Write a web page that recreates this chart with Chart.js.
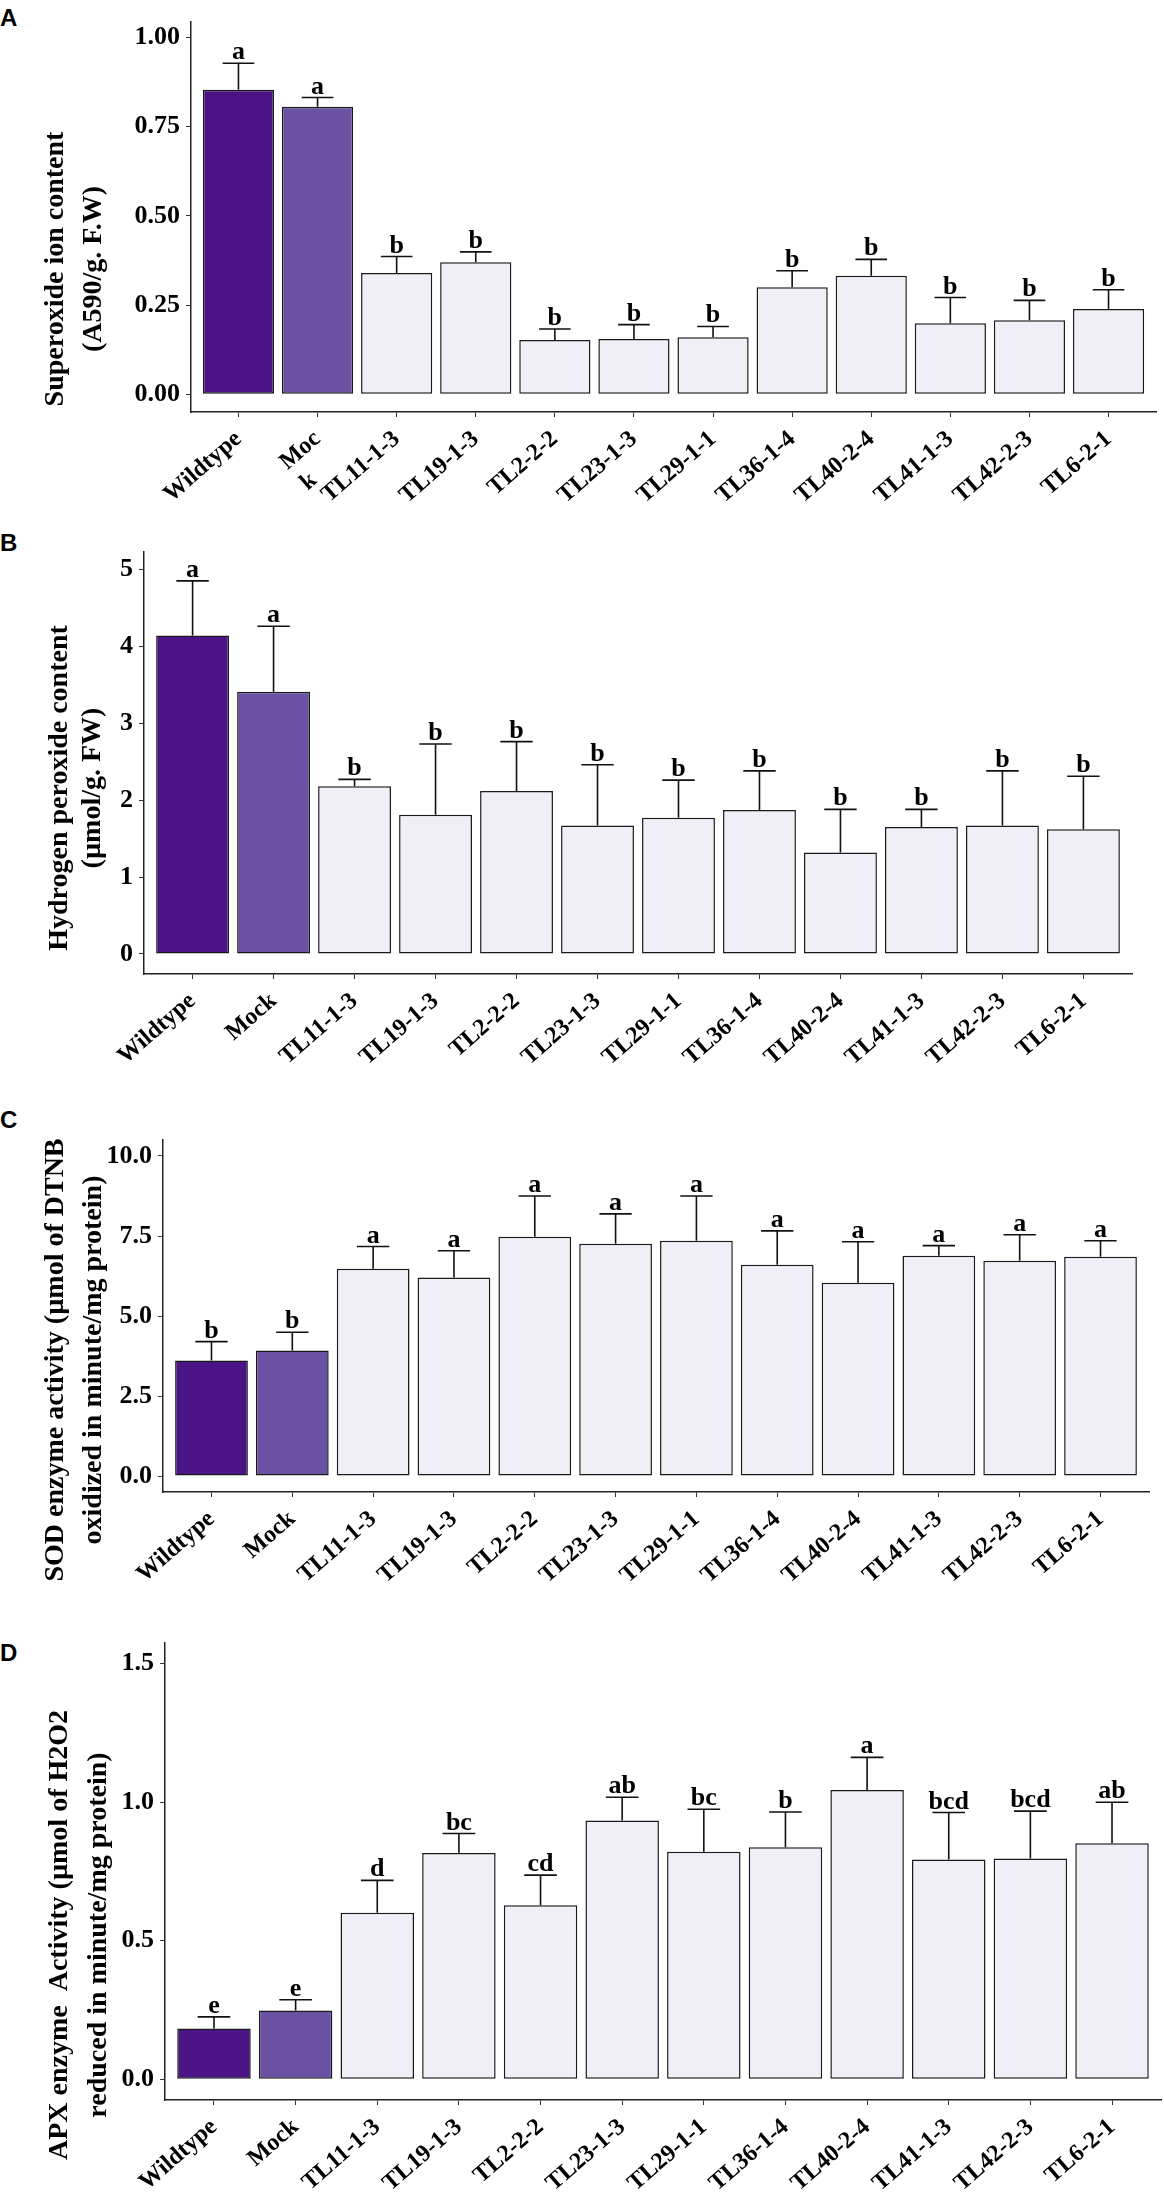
<!DOCTYPE html>
<html>
<head>
<meta charset="utf-8">
<script src="https://cdn.jsdelivr.net/npm/chart.js@4.4.1/dist/chart.umd.min.js"></script>
<style>
  html, body { margin: 0; padding: 0; background: #fff; }
  body { width: 1164px; height: 2195px; position: relative; overflow: hidden; }
  .panel { position: absolute; left: 0; }
  .tag { position: absolute; left: 0; font: bold 24px "Liberation Sans", Arial, sans-serif; line-height: 24px; }
</style>
</head>
<body>
<div class="tag" style="top:6px">A</div>
<div class="tag" style="top:531px">B</div>
<div class="tag" style="top:1108px">C</div>
<div class="tag" style="top:1641px">D</div>

<canvas class="panel" id="chartA" width="1164" height="530" style="top:0px"></canvas>
<canvas class="panel" id="chartB" width="1164" height="550" style="top:530px"></canvas>
<canvas class="panel" id="chartC" width="1164" height="520" style="top:1080px"></canvas>
<canvas class="panel" id="chartD" width="1164" height="595" style="top:1600px"></canvas>

<script>
// genotypes on the x axis
const genotypes = ['Wildtype', 'Mock', 'TL11-1-3', 'TL19-1-3', 'TL2-2-2', 'TL23-1-3',
  'TL29-1-1', 'TL36-1-4', 'TL40-2-4', 'TL41-1-3', 'TL42-2-3', 'TL6-2-1'];
// panel A breaks "Mock" over two lines
const genotypesA = ['Wildtype', ['Moc', 'k\u00a0\u00a0\u00a0\u00a0\u00a0'], 'TL11-1-3', 'TL19-1-3', 'TL2-2-2', 'TL23-1-3',
  'TL29-1-1', 'TL36-1-4', 'TL40-2-4', 'TL41-1-3', 'TL42-2-3', 'TL6-2-1'];

// A - superoxide
const superoxideMean = [0.854, 0.806, 0.340, 0.370, 0.152, 0.155, 0.160, 0.300, 0.332, 0.199, 0.207, 0.239];
const superoxideErr  = [0.074, 0.026, 0.046, 0.029, 0.031, 0.040, 0.030, 0.046, 0.046, 0.072, 0.056, 0.054];
const superoxideSig  = ['a', 'a', 'b', 'b', 'b', 'b', 'b', 'b', 'b', 'b', 'b', 'b'];
const superoxideTicks = [0, 0.25, 0.5, 0.75, 1.0];

// B - hydrogen peroxide
const peroxideMean = [4.14, 3.41, 2.18, 1.81, 2.12, 1.67, 1.77, 1.87, 1.32, 1.65, 1.67, 1.62];
const peroxideErr  = [0.71, 0.85, 0.09, 0.92, 0.64, 0.79, 0.49, 0.51, 0.56, 0.23, 0.71, 0.69];
const peroxideSig  = ['a', 'a', 'b', 'b', 'b', 'b', 'b', 'b', 'b', 'b', 'b', 'b'];
const peroxideTicks = [0, 1, 2, 3, 4, 5];

// C - SOD activity
const sodMean = [3.61, 3.92, 6.48, 6.20, 7.48, 7.26, 7.35, 6.60, 6.04, 6.88, 6.73, 6.85];
const sodErr  = [0.59, 0.57, 0.69, 0.84, 1.27, 0.93, 1.40, 1.06, 1.28, 0.32, 0.81, 0.50];
const sodSig  = ['b', 'b', 'a', 'a', 'a', 'a', 'a', 'a', 'a', 'a', 'a', 'a'];
const sodTicks = [0, 2.5, 5, 7.5, 10];

// D - APX activity
const apxMean = [0.183, 0.248, 0.601, 0.817, 0.628, 0.934, 0.821, 0.838, 1.044, 0.793, 0.797, 0.852];
const apxErr  = [0.042, 0.039, 0.117, 0.070, 0.109, 0.084, 0.154, 0.127, 0.118, 0.170, 0.171, 0.148];
const apxSig  = ['e', 'e', 'd', 'bc', 'cd', 'ab', 'bc', 'b', 'a', 'bcd', 'bcd', 'ab'];
const apxTicks = [0, 0.5, 1.0, 1.5];

const serif = '"Liberation Serif", "Times New Roman", serif';

// error bars (upper only) and letters above them
const errorBars = {
  id: 'errorBars',
  afterDatasetsDraw(chart) {
    const ds = chart.data.datasets[0];
    const xs = chart.scales.x, ys = chart.scales.y;
    const ctx = chart.ctx;
    const unit = xs.getPixelForValue(1) - xs.getPixelForValue(0);
    ctx.save();
    ctx.strokeStyle = '#111';
    ctx.lineWidth = 1.6;
    ctx.fillStyle = '#000';
    ctx.font = 'bold 26px ' + serif;
    ctx.textAlign = 'center';
    ctx.textBaseline = 'alphabetic';
    ds.data.forEach((pt, i) => {
      const x = xs.getPixelForValue(pt.x);
      const y0 = ys.getPixelForValue(pt.y);
      const y1 = ys.getPixelForValue(pt.y + ds.err[i]);
      ctx.beginPath();
      ctx.moveTo(x, y0);
      ctx.lineTo(x, y1);
      ctx.moveTo(x - unit * 0.2, y1);
      ctx.lineTo(x + unit * 0.2, y1);
      ctx.stroke();
      ctx.fillText(ds.sig[i], x, y1 - 4);
    });
    ctx.restore();
  }
};

// two-line rotated y title
const yTitle = {
  id: 'yTitle',
  afterDraw(chart, args, o) {
    const ctx = chart.ctx;
    ctx.save();
    ctx.font = 'bold 28px ' + serif;
    ctx.fillStyle = '#000';
    ctx.textAlign = 'center';
    ctx.textBaseline = 'alphabetic';
    o.lines.forEach((line, k) => {
      ctx.save();
      ctx.translate(o.x[k], o.cy);
      ctx.rotate(-Math.PI / 2);
      ctx.fillText(line, 0, 0);
      ctx.restore();
    });
    ctx.restore();
  }
};

function makePanel(id, p) {
  return new Chart(document.getElementById(id), {
    type: 'bar',
    data: {
      datasets: [{
        data: p.mean.map((v, i) => ({ x: i, y: v })),
        err: p.err,
        sig: p.sig,
        backgroundColor: p.mean.map((v, i) => i === 0 ? '#4a1486' : (i === 1 ? '#6a51a3' : '#f0eff7')),
        borderColor: '#1a1a1a',
        borderWidth: 1.5,
        borderSkipped: false,
        barPercentage: 0.9,
        categoryPercentage: 1.0
      }]
    },
    options: {
      responsive: false,
      animation: false,
      layout: { padding: { top: p.padTop, right: p.padRight, left: 0, bottom: 0 } },
      plugins: {
        legend: { display: false },
        tooltip: { enabled: false },
        yTitle: p.title
      },
      scales: {
        x: {
          type: 'linear',
          offset: false,
          min: -0.6,
          max: 11.6,
          afterBuildTicks: a => { a.ticks = p.labels.map((l, i) => ({ value: i })); },
          afterFit: a => { a.height = p.xHeight; },
          grid: { display: true, drawOnChartArea: false, drawTicks: true, tickLength: 5, color: '#333', offset: false },
          border: { display: true, color: '#222', width: 1.5 },
          ticks: {
            autoSkip: false, minRotation: 41, maxRotation: 41, padding: 8, color: '#000',
            font: { family: serif, size: 24, weight: 'bold' },
            callback: v => p.labels[v]
          }
        },
        y: {
          min: p.yMin,
          max: p.yMax,
          afterBuildTicks: a => { a.ticks = p.ticks.map(v => ({ value: v })); },
          afterFit: a => { a.width = p.yWidth; },
          grid: { display: true, drawOnChartArea: false, drawTicks: true, tickLength: 5, color: '#333' },
          border: { display: true, color: '#222', width: 1.5 },
          ticks: {
            padding: 6, color: '#000',
            font: { family: serif, size: 26, weight: 'bold' },
            callback: v => v.toFixed(p.decimals)
          }
        }
      }
    },
    plugins: [errorBars, yTitle]
  });
}

makePanel('chartA', {
  labels: genotypesA, mean: superoxideMean, err: superoxideErr, sig: superoxideSig,
  ticks: superoxideTicks, decimals: 2, yMin: -0.05, yMax: 1.045,
  padTop: 0, padRight: 8, yWidth: 191, xHeight: 118,
  title: { lines: ['Superoxide ion content', '(A590/g. F.W)'], x: [63, 101], cy: 269 }
});
makePanel('chartB', {
  labels: genotypes, mean: peroxideMean, err: peroxideErr, sig: peroxideSig,
  ticks: peroxideTicks, decimals: 0, yMin: -0.26, yMax: 5.23,
  padTop: 16, padRight: 32, yWidth: 144, xHeight: 106,
  title: { lines: ['Hydrogen peroxide content', '(\u00b5mol/g. FW)'], x: [67, 100], cy: 258 }
});
makePanel('chartC', {
  labels: genotypes, mean: sodMean, err: sodErr, sig: sodSig,
  ticks: sodTicks, decimals: 1, yMin: -0.5, yMax: 10.5,
  padTop: 60, padRight: 15, yWidth: 163, xHeight: 108,
  title: { lines: ['SOD enzyme activity (\u00b5mol of DTNB', 'oxidized in minute/mg protein)'], x: [63, 101], cy: 280 }
});
makePanel('chartD', {
  labels: genotypes, mean: apxMean, err: apxErr, sig: apxSig,
  ticks: apxTicks, decimals: 1, yMin: -0.075, yMax: 1.575,
  padTop: 43, padRight: 3, yWidth: 165, xHeight: 95,
  title: { lines: ['APX enzyme  Activity (\u00b5mol of H2O2', 'reduced in minute/mg protein)'], x: [67, 106], cy: 335 }
});
</script>
</body>
</html>
